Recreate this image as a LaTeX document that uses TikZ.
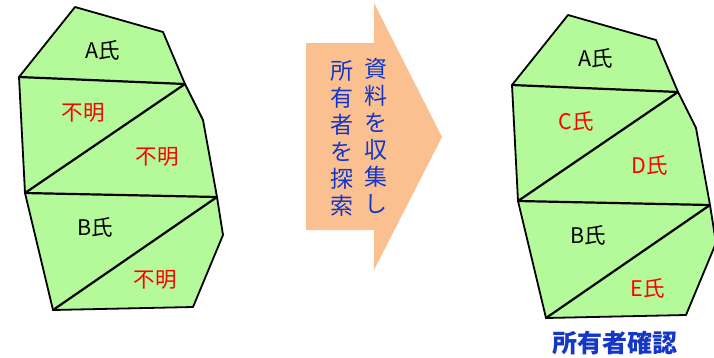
\documentclass[tikz,border=0pt]{standalone}
\usepackage{fontspec}
\setmainfont{Noto Sans CJK JP}
\definecolor{landgreen}{RGB}{180,250,155}
\definecolor{arrowpeach}{RGB}{250,192,144}
\definecolor{txtblue}{RGB}{20,55,200}
\tikzset{
  parcel/.style={draw=black, line width=1.8pt, fill=landgreen, line join=round},
  divider/.style={draw=black, line width=2.2pt, line cap=round},
  owner/.style={font=\fontsize{21.5}{26}\selectfont, text=black, inner sep=0pt},
  unknown/.style={font=\fontsize{21.5}{26}\selectfont, text=red, inner sep=0pt},
  vtext/.style={font=\fontsize{23}{27}\selectfont, text=txtblue, align=center, inner sep=0pt},
}
\newcommand{\parcelshape}[1]{%
  \coordinate (#1t) at (75,7);
  \coordinate (#1tr) at (163,32);
  \coordinate (#1r1) at (185,84);
  \coordinate (#1r2) at (203,120);
  \coordinate (#1r3) at (217,197);
  \coordinate (#1r4) at (223,235);
  \coordinate (#1br) at (193,307);
  \coordinate (#1bl) at (53,310);
  \coordinate (#1l2) at (25,193);
  \coordinate (#1l1) at (19,77);
  \path[parcel] (#1t) -- (#1tr) -- (#1r1) -- (#1r2) -- (#1r3) -- (#1r4) -- (#1br) -- (#1bl) -- (#1l2) -- (#1l1) -- cycle;
  \draw[divider] (#1l1) -- (#1r1);
  \draw[divider] (#1r1) -- (#1l2);
  \draw[divider] (#1l2) -- (#1r3);
  \draw[divider] (#1r3) -- (#1bl);
}
\begin{document}
\begin{tikzpicture}[x=1pt, y=-1pt]
\useasboundingbox (0,0) rectangle (714,357);
% left parcel
\begin{scope}
\parcelshape{L}
\node[owner] (LA) at (103,50) {A氏};
\node[unknown] (LU1) at (83,113) {不明};
\node[unknown] (LU2) at (157,157) {不明};
\node[owner] (LB) at (95,227) {B氏};
\node[unknown] (LU3) at (155,280) {不明};
\end{scope}
% arrow
\coordinate (a1) at (306,43);
\coordinate (a2) at (374,43);
\coordinate (a3) at (374,3);
\coordinate (a4) at (442,137);
\coordinate (a5) at (374,270);
\coordinate (a6) at (374,230);
\coordinate (a7) at (306,230);
\fill[arrowpeach] (a1) -- (a2) -- (a3) -- (a4) -- (a5) -- (a6) -- (a7) -- cycle;
\node[vtext] (col1) at (376,136) {資\\料\\を\\収\\集\\し};
\node[vtext] (col2) at (342,138) {所\\有\\者\\を\\探\\索};
% right parcel
\begin{scope}[shift={(493,8)}]
\parcelshape{R}
\node[owner] (RA) at (103,50) {A氏};
\node[unknown] (RC) at (83,113) {C氏};
\node[unknown] (RD) at (157,157) {D氏};
\node[owner] (RB) at (95,227) {B氏};
\node[unknown] (RE) at (155,280) {E氏};
\end{scope}
\node[font=\fontsize{25}{30}\selectfont\bfseries, text=txtblue, inner sep=0pt] (confirm) at (615,343) {所有者確認};
\end{tikzpicture}
\end{document}
